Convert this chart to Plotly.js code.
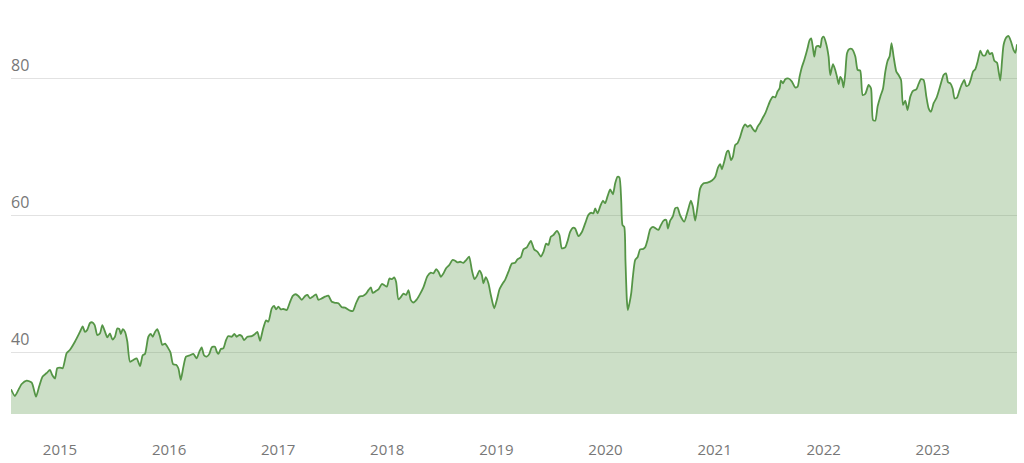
<!DOCTYPE html>
<html>
<head>
<meta charset="utf-8">
<script src="https://cdn.plot.ly/plotly-3.0.1.min.js"></script>
<style>html,body{margin:0;padding:0;background:#fff;}#chart{width:1024px;height:463px;}</style>
</head>
<body>
<div id="chart"></div>
<script>
// decimal-year dates
const years = [
2014.551,2014.587,2014.618,2014.649,2014.695,2014.741,2014.780,2014.810,2014.841,2014.878,
2014.908,2014.929,2014.954,2014.975,2015.000,2015.025,2015.061,2015.092,2015.138,2015.183,
2015.208,2015.229,2015.250,2015.275,2015.296,2015.318,2015.342,2015.367,2015.388,2015.413,
2015.434,2015.458,2015.480,2015.504,2015.525,2015.544,2015.557,2015.575,2015.596,2015.617,
2015.642,2015.672,2015.703,2015.734,2015.758,2015.779,2015.810,2015.832,2015.850,2015.871,
2015.892,2015.917,2015.938,2015.963,2015.993,2016.013,2016.036,2016.064,2016.085,2016.107,
2016.131,2016.155,2016.192,2016.222,2016.253,2016.277,2016.299,2016.320,2016.345,2016.369,
2016.391,2016.421,2016.437,2016.452,2016.474,2016.497,2016.522,2016.543,2016.574,2016.598,
2016.620,2016.641,2016.666,2016.687,2016.717,2016.758,2016.788,2016.809,2016.834,2016.859,
2016.889,2016.910,2016.941,2016.962,2016.981,2017.002,2017.024,2017.048,2017.079,2017.109,
2017.134,2017.161,2017.185,2017.216,2017.247,2017.268,2017.292,2017.317,2017.347,2017.368,
2017.400,2017.430,2017.460,2017.491,2017.522,2017.552,2017.583,2017.613,2017.659,2017.684,
2017.714,2017.744,2017.776,2017.806,2017.827,2017.849,2017.867,2017.898,2017.919,2017.950,
2017.971,2017.996,2018.020,2018.042,2018.063,2018.081,2018.102,2018.127,2018.148,2018.173,
2018.194,2018.216,2018.240,2018.271,2018.301,2018.331,2018.368,2018.399,2018.423,2018.448,
2018.469,2018.491,2018.515,2018.539,2018.570,2018.597,2018.622,2018.643,2018.668,2018.698,
2018.723,2018.750,2018.775,2018.799,2018.821,2018.845,2018.867,2018.881,2018.903,2018.927,
2018.949,2018.980,2019.004,2019.028,2019.059,2019.080,2019.111,2019.142,2019.172,2019.193,
2019.224,2019.248,2019.279,2019.316,2019.346,2019.377,2019.408,2019.432,2019.456,2019.477,
2019.499,2019.523,2019.554,2019.578,2019.600,2019.631,2019.655,2019.676,2019.701,2019.722,
2019.752,2019.784,2019.814,2019.844,2019.869,2019.890,2019.906,2019.927,2019.951,2019.976,
2019.997,2020.018,2020.043,2020.068,2020.089,2020.110,2020.128,2020.144,2020.156,2020.172,
2020.183,2020.196,2020.205,2020.220,2020.236,2020.251,2020.272,2020.294,2020.318,2020.343,
2020.364,2020.385,2020.410,2020.435,2020.462,2020.486,2020.508,2020.532,2020.557,2020.572,
2020.593,2020.618,2020.639,2020.660,2020.685,2020.722,2020.752,2020.783,2020.801,2020.822,
2020.844,2020.868,2020.899,2020.935,2020.976,2021.006,2021.031,2021.052,2021.067,2021.088,
2021.113,2021.128,2021.150,2021.168,2021.189,2021.210,2021.235,2021.260,2021.281,2021.302,
2021.327,2021.352,2021.373,2021.394,2021.419,2021.443,2021.464,2021.486,2021.510,2021.535,
2021.556,2021.577,2021.596,2021.608,2021.627,2021.648,2021.678,2021.709,2021.739,2021.761,
2021.779,2021.801,2021.822,2021.840,2021.852,2021.871,2021.886,2021.902,2021.914,2021.932,
2021.953,2021.969,2021.984,2021.999,2022.021,2022.045,2022.060,2022.085,2022.106,2022.122,
2022.137,2022.152,2022.168,2022.182,2022.198,2022.214,2022.235,2022.259,2022.290,2022.311,
2022.335,2022.357,2022.381,2022.412,2022.434,2022.452,2022.473,2022.494,2022.519,2022.544,
2022.565,2022.586,2022.604,2022.622,2022.641,2022.666,2022.687,2022.709,2022.727,2022.748,
2022.769,2022.794,2022.819,2022.849,2022.870,2022.892,2022.916,2022.941,2022.962,2022.984,
2023.008,2023.032,2023.053,2023.075,2023.099,2023.121,2023.140,2023.161,2023.182,2023.200,
2023.222,2023.246,2023.268,2023.289,2023.307,2023.329,2023.351,2023.369,2023.390,2023.411,
2023.436,2023.457,2023.482,2023.503,2023.521,2023.543,2023.564,2023.589,2023.604,2023.619,
2023.635,2023.649,2023.674,2023.695,2023.717,2023.741,2023.757,2023.772
];
const prices = [
34.63,33.65,34.5,35.4,35.9,35.6,33.55,35.1,36.5,37.0,
37.45,36.7,36.2,37.7,37.8,37.7,39.9,40.4,41.6,43.0,
43.8,43.0,43.3,44.3,44.4,44.0,42.55,42.8,44.0,43.0,
42.2,42.8,41.9,42.3,43.5,43.4,42.7,43.4,43.0,41.6,
38.65,38.9,39.15,38.0,39.6,39.8,42.3,42.7,42.3,43.0,
43.4,42.3,41.1,41.3,40.6,40.0,38.3,38.2,37.7,36.0,
37.9,39.4,39.6,39.8,39.15,40.1,40.75,39.6,39.4,39.8,
40.75,40.85,40.1,39.8,40.5,40.6,41.8,42.4,42.3,42.7,
42.3,42.55,42.4,41.8,42.3,42.4,42.7,43.0,41.7,43.3,
44.7,44.5,46.45,46.8,46.3,46.7,46.3,46.35,46.2,47.4,
48.25,48.5,48.25,47.7,48.25,48.4,47.9,48.15,48.5,47.7,
47.9,48.15,48.3,47.4,47.25,47.2,46.6,46.55,46.1,46.05,
47.2,48.15,48.25,48.6,49.1,49.5,48.7,49.0,49.2,50.0,
49.85,49.6,50.8,50.7,50.95,50.3,47.75,48.15,48.6,48.4,
49.1,47.65,47.3,47.75,48.55,49.5,51.15,51.65,51.55,52.15,
51.8,51.05,51.55,52.3,52.8,53.5,53.4,53.15,53.25,53.1,
53.5,54.0,52.05,50.7,51.15,51.95,51.3,50.1,51.0,50.1,
48.4,46.45,47.65,49.2,50.1,50.6,51.8,53.0,53.1,53.6,
53.9,55.05,55.35,56.3,55.05,54.7,54.0,54.7,55.9,55.7,
56.9,57.15,57.75,57.15,55.2,55.35,56.4,57.6,58.2,58.1,
57.0,57.6,58.85,60.1,60.4,60.3,61.05,60.3,61.3,62.15,
61.8,62.75,63.8,63.1,64.7,65.65,65.55,62.25,58.6,58.35,
53.5,47.65,46.2,47.2,48.65,51.05,53.5,53.9,55.05,55.1,
55.35,56.4,58.0,58.35,58.1,57.9,58.6,59.25,59.35,58.1,
59.25,59.9,61.05,61.15,60.0,59.1,60.55,62.15,61.3,59.25,
61.3,63.95,64.7,64.8,65.1,65.65,67.0,67.5,66.75,67.85,
69.3,69.45,68.1,68.6,70.3,70.55,71.5,72.8,73.3,72.95,
73.2,72.6,72.25,72.95,73.55,74.3,74.9,75.8,76.75,77.35,
77.25,78.1,78.55,79.7,79.3,79.9,80.0,79.55,78.7,78.8,
80.25,81.7,82.7,83.7,84.4,85.6,85.85,84.4,83.2,84.65,
84.75,84.55,85.85,86.1,85.2,83.2,80.5,82.1,81.25,80.25,
79.2,80.25,79.8,78.7,80.75,83.7,84.3,84.3,83.2,81.25,
81.15,77.6,77.75,79.05,78.55,73.95,73.85,75.9,77.35,78.55,
81.0,82.6,83.2,85.15,83.2,81.0,80.5,79.8,76.15,76.75,
75.4,77.35,78.2,78.4,79.2,79.9,79.8,77.35,75.65,75.15,
76.4,77.1,78.1,79.3,80.5,80.75,79.45,79.3,78.55,77.1,
77.2,78.3,79.2,79.8,78.9,79.05,80.0,81.0,81.35,82.45,
84.05,83.4,83.4,84.15,83.55,83.75,82.6,82.3,81.0,79.7,
82.6,84.9,86.0,86.2,85.4,84.15,83.75,85.0
];
const yearTicks = [2015,2016,2017,2018,2019,2020,2021,2022,2023];
const yearLabels = ['2015','2016','2017','2018','2019','2020','2021','2022','2023'];
const valueTicks = [40,60,80];
const valueLabels = ['40','60','80'];

const trace = {
  x: years,
  y: prices,
  type: 'scatter',
  mode: 'lines',
  fill: 'tozeroy',
  fillcolor: 'rgba(85,149,70,0.30)',
  line: {color: '#559546', width: 1.8, shape: 'spline', smoothing: 0.6},
  hoverinfo: 'skip'
};

const layout = {
  width: 1024,
  height: 463,
  margin: {l: 11, r: 7, t: 30, b: 49},
  paper_bgcolor: '#ffffff',
  plot_bgcolor: '#ffffff',
  showlegend: false,
  font: {family: 'Open Sans, sans-serif', color: '#777777', size: 15},
  xaxis: {
    type: 'linear',
    range: [2014.551, 2023.772],
    tickvals: yearTicks,
    ticktext: yearLabels,
    showgrid: false,
    zeroline: false,
    showline: false,
    ticks: '',
    ticklabelstandoff: 25,
    tickfont: {size: 15, color: '#777777'}
  },
  yaxis: {
    range: [31.02, 87.08],
    tickvals: valueTicks,
    ticktext: valueLabels,
    showgrid: true,
    gridcolor: '#e2e2e2',
    gridwidth: 1,
    zeroline: false,
    showline: false,
    ticks: '',
    ticklabelposition: 'inside',
    ticklabelshift: -13,
    ticklabelstandoff: -3,
    tickfont: {size: 16, color: '#777777'}
  }
};

Plotly.newPlot('chart', [trace], layout, {staticPlot: true, displayModeBar: false});
</script>
</body>
</html>
